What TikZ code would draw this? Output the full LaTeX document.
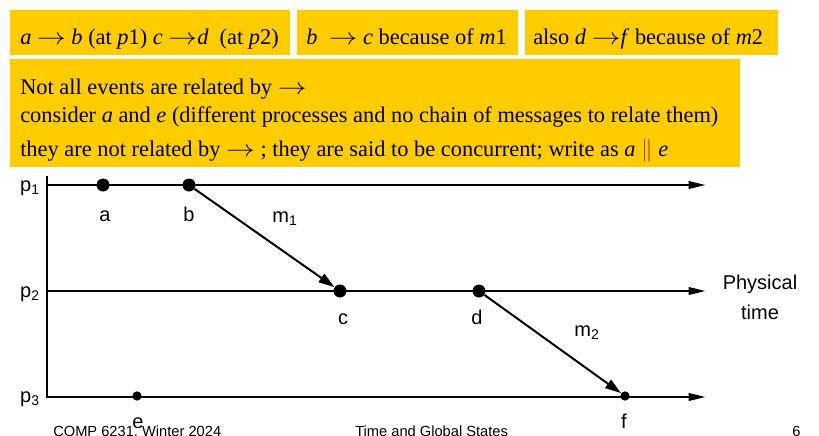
\documentclass[tikz,border=0pt]{standalone}
\usepackage{fontspec}
\usepackage{graphicx}
\setmainfont{Liberation Serif}
\setsansfont{Liberation Sans}
\usetikzlibrary{arrows.meta}
\definecolor{hlyellow}{HTML}{FFCC00}
\definecolor{parcol}{HTML}{993300}
\newcommand{\larr}{\scalebox{1.25}[1]{$\rightarrow$}}
\tikzset{
  hl/.style={fill=hlyellow},
  txt/.style={anchor=base west, inner sep=0pt, font=\fontsize{16.8}{19}\selectfont},
  proc/.style={line width=1.9pt, -{Triangle[length=13pt,width=5.5pt]}},
  msg/.style={line width=1.5pt, -{Triangle[length=12pt,width=7.5pt]}},
  bigdot/.style={circle, fill=black, inner sep=0pt, minimum size=9.75pt},
  smalldot/.style={circle, fill=black, inner sep=0pt, minimum size=7pt},
  lbl/.style={anchor=base, inner sep=0pt, font=\sffamily\fontsize{15}{18}\selectfont},
  foot/.style={anchor=base west, inner sep=0pt, font=\sffamily\fontsize{11}{12}\selectfont}
}
\begin{document}
\begin{tikzpicture}[x=0.75pt,y=-0.75pt]
    \useasboundingbox (0,0) rectangle (819,436);
    % yellow boxes
    \fill[hl] (10,10) rectangle (290,55);
    \fill[hl] (297,10) rectangle (518,55);
    \fill[hl] (525,10) rectangle (778,55);
    \fill[hl] (10,59) rectangle (740,167);
    \node[txt] (r1) at (20,44) {\textit{a} \larr\ \textit{b} (at \textit{p}1) \textit{c} \larr\textit{d}\ \ (at \textit{p}2)};
    \node[txt] (r2) at (306,44) {\textit{b}\ \ \larr\ \textit{c} because of \textit{m}1};
    \node[txt] (r3) at (533,44) {also \textit{d} \larr\textit{f} because of \textit{m}2};
    \node[txt] (n1) at (20,94) {Not all events are related by \larr};
    \node[txt] (n2) at (20,122) {consider \textit{a} and \textit{e} (different processes and no chain of messages to relate them)};
    \node[txt] (n3) at (20,156) {they are not related by \larr\ ; they are said to be concurrent; write as \textit{a} \textcolor{parcol}{$\|$} \textit{e}};
    % process lines
    \coordinate (p1s) at (47,185);
    \coordinate (p1e) at (706,185);
    \coordinate (p2s) at (47,291);
    \coordinate (p2e) at (706,291);
    \coordinate (p3s) at (47,397);
    \coordinate (p3e) at (706,397);
    \draw[line width=1.9pt] (47,176) -- (47,398);
    \draw[proc] (p1s) -- (p1e);
    \draw[proc] (p2s) -- (p2e);
    \draw[proc] (p3s) -- (p3e);
    \node[lbl, anchor=base east] (lp1) at (40,191) {p\textsubscript{1}};
    \node[lbl, anchor=base east] (lp2) at (40,297) {p\textsubscript{2}};
    \node[lbl, anchor=base east] (lp3) at (40,402) {p\textsubscript{3}};
    \node[lbl, align=center] (phys) at (760,319) {Physical\\[4pt]time};
    % events
    \node[bigdot] (a) at (103,185) {};
    \node[bigdot] (b) at (189,185) {};
    \node[bigdot] (c) at (340,291) {};
    \node[bigdot] (d) at (479,291) {};
    \node[smalldot] (e) at (137,396) {};
    \node[smalldot] (f) at (625,396) {};
    \node[lbl] (la) at (105,221) {a};
    \node[lbl] (lb) at (189,221) {b};
    \node[lbl] (lc) at (343,324) {c};
    \node[lbl] (ld) at (477,324) {d};
    \node[lbl] (le) at (138,428) {e};
    \node[lbl] (lf) at (624,428) {f};
    % messages
    \draw[msg] (b) -- (c);
    \draw[msg] (d) -- (f);
    \node[lbl] (m1) at (285,222) {m\textsubscript{1}};
    \node[lbl] (m2) at (587,336) {m\textsubscript{2}};
    % footer
    \node[foot] (f1) at (53,436) {COMP 6231, Winter 2024};
    \node[foot] (f2) at (355,436) {Time and Global States};
    \node[foot] (f3) at (792,436) {6};
\end{tikzpicture}
\end{document}
